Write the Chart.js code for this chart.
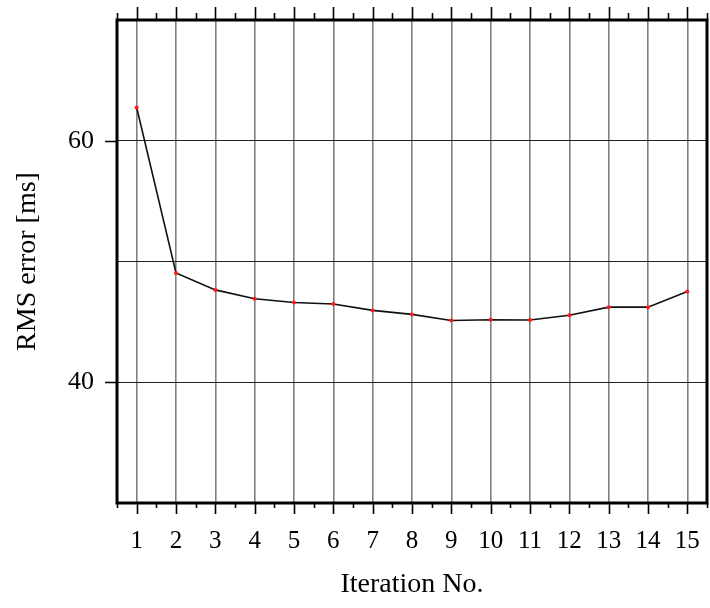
<!DOCTYPE html>
<html>
<head>
<meta charset="utf-8">
<script src="https://cdn.jsdelivr.net/npm/chart.js@4/dist/chart.umd.min.js"></script>
<style>
  html, body { margin: 0; padding: 0; background: #fff; }
  #wrap { width: 710px; height: 608px; }
</style>
</head>
<body>
<div id="wrap"><canvas id="c" width="710" height="608"></canvas></div>
<script>
// Iteration numbers and the RMS travel-time error after each iteration
const iterations = [1, 2, 3, 4, 5, 6, 7, 8, 9, 10, 11, 12, 13, 14, 15];
const rmsError = [62.75, 49.05, 47.65, 46.92, 46.6, 46.48, 45.95, 45.62, 45.12, 45.18, 45.15, 45.55, 46.22, 46.22, 47.52];

// Axis ranges and ticks
const xRange = [0.5, 15.5];
const yRange = [30, 70];
const yTickValues = [40, 50, 60];
const yLabelledTicks = [40, 60];

const serif = "'Liberation Serif', 'DejaVu Serif', 'Times New Roman', serif";

// Keep the plot box fixed: no extra room reserved for overhanging labels
function fixPadding(scale) {
  scale.paddingTop = 0;
  scale.paddingBottom = 0;
  scale.paddingLeft = 0;
  scale.paddingRight = 0;
}

// Thick frame plus outward tick marks (major at integers, minor at halves)
const framePlugin = {
  id: 'frameTicks',
  afterDraw(chart) {
    const { ctx, chartArea: a, scales } = chart;
    const xs = scales.x, ys = scales.y;
    ctx.save();
    ctx.strokeStyle = '#000';
    ctx.lineWidth = 1.6;
    ctx.beginPath();
    const halfSteps = [];
    iterations.forEach(v => { halfSteps.push(v - 0.5); });
    halfSteps.push(iterations[iterations.length - 1] + 0.5);
    iterations.forEach(v => {
      const px = Math.round(xs.getPixelForValue(v)) + 0.5;
      ctx.moveTo(px, a.top); ctx.lineTo(px, a.top - 13);
      ctx.moveTo(px, a.bottom); ctx.lineTo(px, a.bottom + 11);
    });
    halfSteps.forEach(v => {
      const px = Math.round(xs.getPixelForValue(v)) + 0.5;
      ctx.moveTo(px, a.top); ctx.lineTo(px, a.top - 7);
      ctx.moveTo(px, a.bottom); ctx.lineTo(px, a.bottom + 5);
    });
    yLabelledTicks.forEach(v => {
      const py = Math.round(ys.getPixelForValue(v)) + 0.5;
      ctx.moveTo(a.left, py); ctx.lineTo(a.left - 12, py);
    });
    ctx.stroke();
    ctx.lineWidth = 3;
    ctx.strokeRect(a.left, a.top, a.right - a.left, a.bottom - a.top);
    ctx.restore();
  }
};

new Chart(document.getElementById('c'), {
  type: 'line',
  data: {
    datasets: [{
      data: iterations.map((it, i) => ({ x: it, y: rmsError[i] })),
      borderColor: '#111',
      borderWidth: 1.6,
      pointRadius: 2,
      pointBorderWidth: 0,
      pointBackgroundColor: '#ff1a1a',
      pointHoverRadius: 2,
      tension: 0,
      fill: false
    }]
  },
  options: {
    responsive: false,
    devicePixelRatio: 1,
    animation: false,
    events: [],
    layout: { padding: { left: 0, top: 20, right: 3, bottom: 0 } },
    plugins: { legend: { display: false }, tooltip: { enabled: false } },
    scales: {
      x: {
        type: 'linear',
        min: xRange[0],
        max: xRange[1],
        afterBuildTicks(scale) { scale.ticks = iterations.map(v => ({ value: v })); },
        afterFit(scale) { scale.height = 105; fixPadding(scale); },
        border: { display: false },
        grid: { color: '#808080', lineWidth: 1.6, drawTicks: false },
        ticks: {
          color: '#000',
          padding: 23,
          maxRotation: 0,
          autoSkip: false,
          font: { family: serif, size: 25 },
          callback: v => String(v)
        },
        title: {
          display: true,
          text: 'Iteration No.',
          color: '#000',
          font: { family: serif, size: 28 },
          padding: { top: 0, bottom: 7 }
        }
      },
      y: {
        type: 'linear',
        min: yRange[0],
        max: yRange[1],
        afterBuildTicks(scale) { scale.ticks = yTickValues.map(v => ({ value: v })); },
        afterFit(scale) { scale.width = 117; fixPadding(scale); },
        border: { display: false },
        grid: { color: '#222', lineWidth: 1, drawTicks: false },
        ticks: {
          color: '#000',
          padding: 23,
          font: { family: serif, size: 26 },
          callback: v => (yLabelledTicks.includes(v) ? String(v) : '')
        },
        title: {
          display: true,
          text: 'RMS error [ms]',
          color: '#000',
          font: { family: serif, size: 28 },
          padding: { top: 11, bottom: 0 }
        }
      }
    }
  },
  plugins: [framePlugin]
});
</script>
</body>
</html>
